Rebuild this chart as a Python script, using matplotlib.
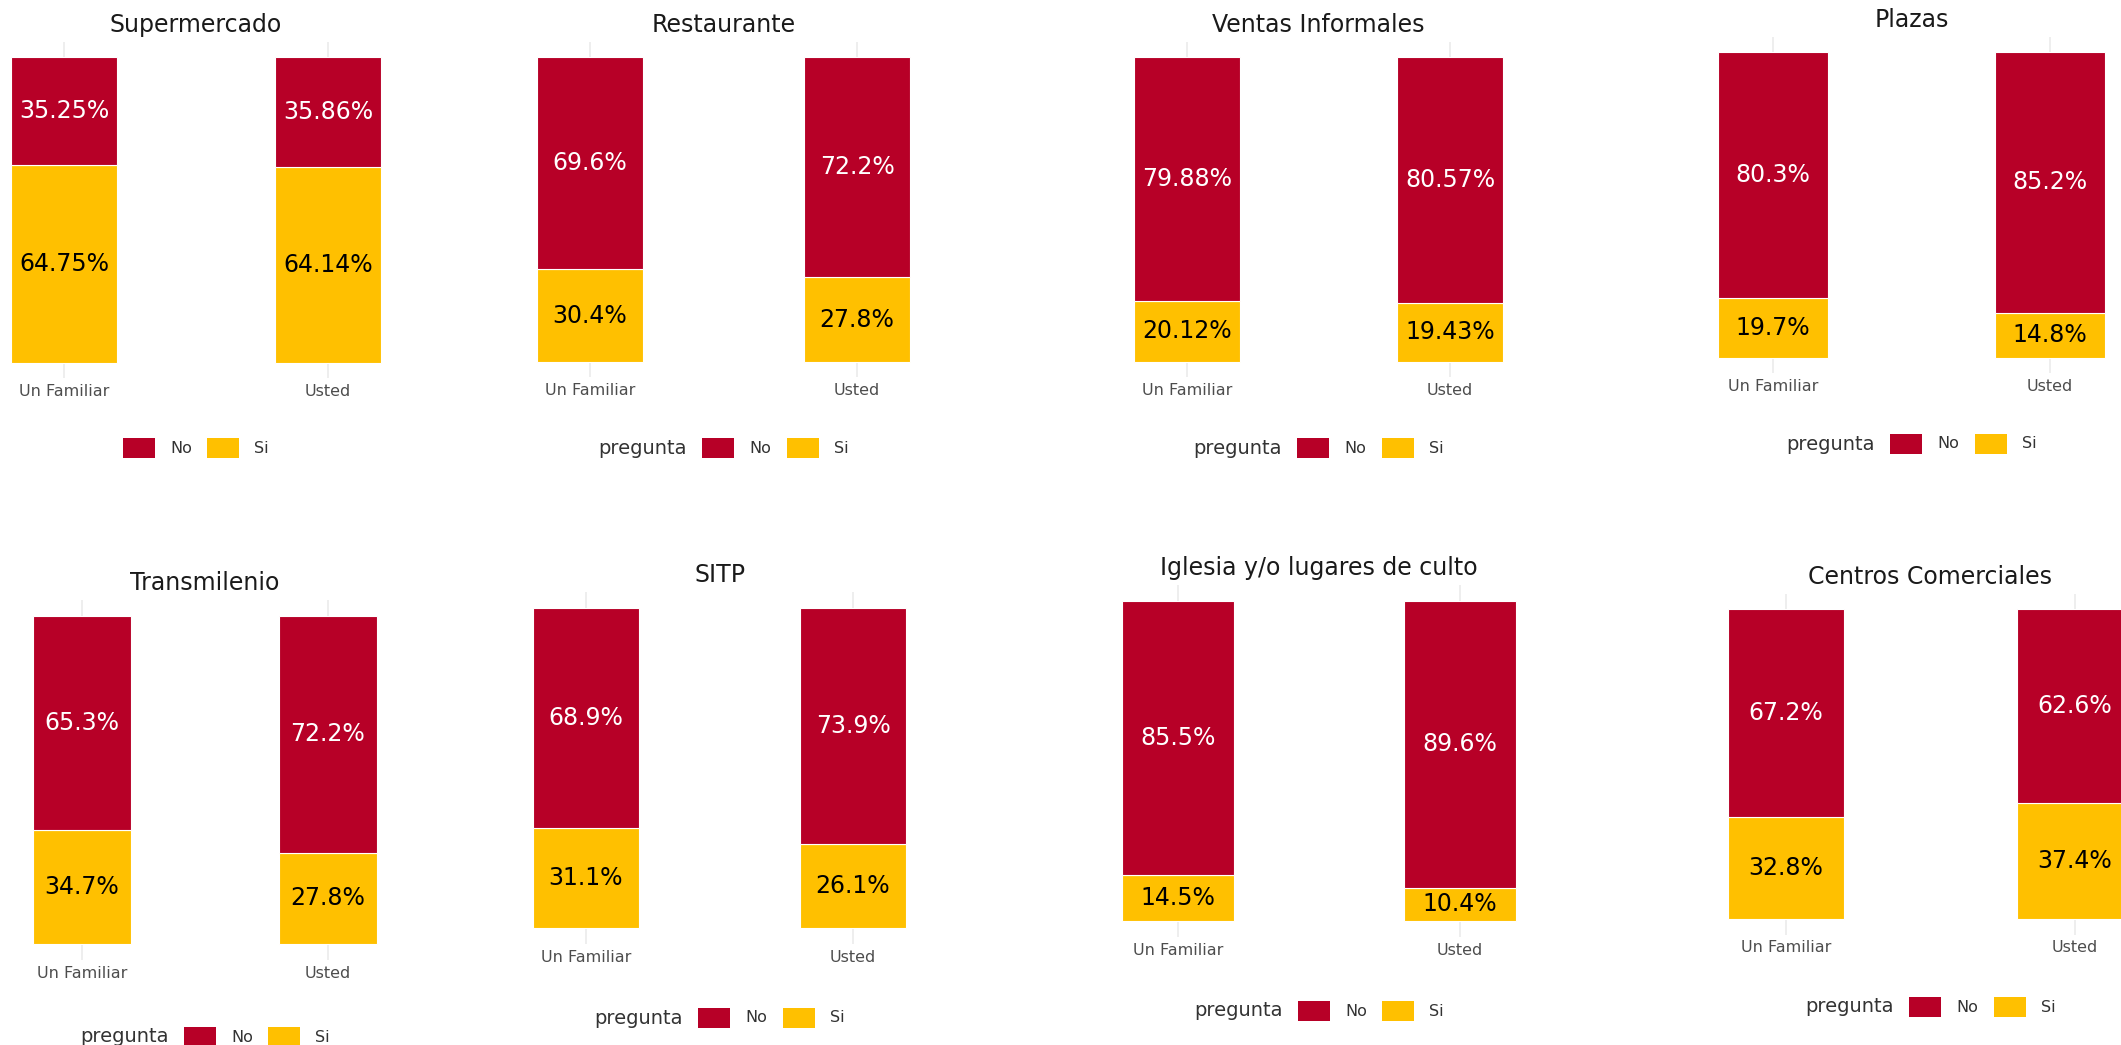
import matplotlib.pyplot as plt
from matplotlib.offsetbox import HPacker, TextArea, DrawingArea, AnchoredOffsetbox
from matplotlib.patches import Rectangle

# figure size in pixels
W, H = 2121, 1045
DPI = 100

# data
titles = ["Supermercado", "Restaurante", "Ventas Informales", "Plazas",
          "Transmilenio", "SITP", "Iglesia y/o lugares de culto", "Centros Comerciales"]
groups = ["Un Familiar", "Usted"]
answers = ["No", "Si"]
no_pct = [[35.25, 35.86], [69.6, 72.2], [79.88, 80.57], [80.3, 85.2],
          [65.3, 72.2], [68.9, 73.9], [85.5, 89.6], [67.2, 62.6]]
si_pct = [[64.75, 64.14], [30.4, 27.8], [20.12, 19.43], [19.7, 14.8],
          [34.7, 27.8], [31.1, 26.1], [14.5, 10.4], [32.8, 37.4]]
show_legend_title = [False, True, True, True, True, True, True, True]

# layout of each panel (pixels): centres of the two bars, y of 100% and 0%, legend row
bar_centers_px = [(64, 328), (590, 857), (1187, 1450), (1773, 2050),
                  (82, 328), (586, 853), (1178, 1460), (1786, 2075)]
top_px = [57, 57, 57, 52, 616, 608, 601, 609]
bot_px = [363, 362, 362, 358, 944, 928, 921, 919]
legend_y_px = [448, 448, 448, 444, 1037, 1018, 1011, 1007]

NO_COLOR = "#B70027"
SI_COLOR = "#FFC000"
colors = [NO_COLOR, SI_COLOR]

plt.rcParams["font.family"] = ["DejaVu Sans"]

fig = plt.figure(figsize=(W / DPI, H / DPI), dpi=DPI)


def make_legend(cx, cy, with_title):
    items = []
    if with_title:
        items.append(TextArea("pregunta", textprops=dict(fontsize=14, color="#333333")))
    for lab, col in zip(answers, colors):
        da = DrawingArea(23, 13.7, 0, 0)
        da.add_artist(Rectangle((0, 0), 23, 13.7, facecolor=col, edgecolor="none"))
        items.append(da)
        items.append(TextArea(lab, textprops=dict(fontsize=11.5, color="#333333")))
    box = HPacker(children=items, align="center", pad=0, sep=11)
    anchored = AnchoredOffsetbox(loc="center", child=box, pad=0, borderpad=0, frameon=False,
                                 bbox_to_anchor=(cx / W, 1 - cy / H),
                                 bbox_transform=fig.transFigure)
    fig.add_artist(anchored)


for i, title in enumerate(titles):
    c1, c2 = bar_centers_px[i]
    unit = c2 - c1
    span = bot_px[i] - top_px[i]
    left = c1 - 0.6 * unit
    ax_bottom = bot_px[i] + 0.05 * span
    ax_top = top_px[i] - 0.05 * span
    ax = fig.add_axes([left / W, 1 - ax_bottom / H, 2.2 * unit / W, (ax_bottom - ax_top) / H])
    ax.set_facecolor("none")

    x = [1, 2]
    si = [v / 100 for v in si_pct[i]]
    no = [v / 100 for v in no_pct[i]]
    bars_si = ax.bar(x, si, width=0.4, color=SI_COLOR, edgecolor="white", linewidth=0.8)
    bars_no = ax.bar(x, no, width=0.4, bottom=si, color=NO_COLOR, edgecolor="white", linewidth=0.8)
    ax.bar_label(bars_si, labels=[f"{v:g}%" for v in si_pct[i]], label_type="center",
                 color="black", fontsize=17)
    ax.bar_label(bars_no, labels=[f"{v:g}%" for v in no_pct[i]], label_type="center",
                 color="white", fontsize=17)

    ax.set_xlim(0.4, 2.6)
    ax.set_ylim(-0.05, 1.05)
    ax.set_xticks(x, groups)
    ax.set_yticks([])
    ax.tick_params(axis="x", length=0, pad=4, labelsize=11.5, labelcolor="#4D4D4D")
    ax.grid(axis="x", color="#EBEBEB", linewidth=1.2)
    ax.set_axisbelow(True)
    for s in ax.spines.values():
        s.set_visible(False)
    ax.set_title(title, fontsize=17, color="#1A1A1A", pad=7)

    make_legend((c1 + c2) / 2, legend_y_px[i], show_legend_title[i])

fig.savefig("out.png", dpi=DPI)
